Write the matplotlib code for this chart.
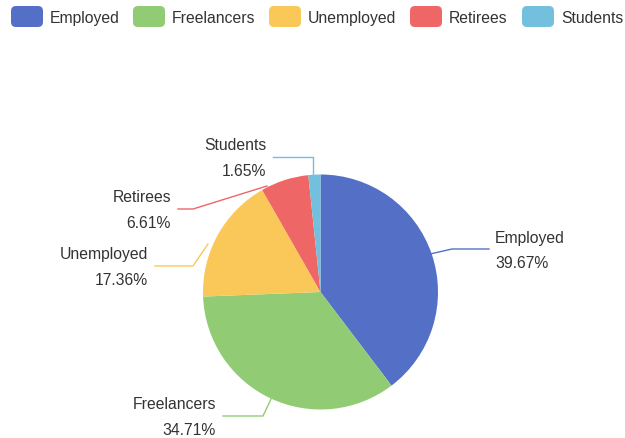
import numpy as np
import matplotlib
matplotlib.use("Agg")
import matplotlib.pyplot as plt
from matplotlib.patches import FancyBboxPatch

categories = ["Employed", "Freelancers", "Unemployed", "Retirees", "Students"]
values = [48, 42, 21, 8, 2]
colors = ["#5470c6", "#91cc75", "#fac858", "#ee6666", "#73c0de"]

W, H = 625, 439
plt.rcParams['font.family'] = ['Liberation Sans', 'DejaVu Sans']

fig = plt.figure(figsize=(W / 100, H / 100), dpi=100)
ax = fig.add_axes([0, 0, 1, 1])

# pie geometry (pixel coords, y measured from top)
cx, cy, r = 320.5, 293, 117.5
ax.pie(values, colors=colors, startangle=90, counterclock=False,
       center=(cx, H - cy), radius=r, frame=True,
       wedgeprops=dict(linewidth=0))
ax.set_xlim(0, W)
ax.set_ylim(0, H)
ax.set_aspect('equal')
ax.axis('off')

# label line layout: start, bend, end, text side (pixel coords, y from top)
label_lines = [
    ((430, 255), (452, 250), (489, 250), 'left'),
    ((272, 398), (263, 417), (223, 417), 'right'),
    ((208, 245), (193, 267), (155, 267), 'right'),
    ((267, 187), (193, 210), (178, 210), 'right'),
    ((313, 176), (313, 158), (273, 158), 'right'),
]

total = sum(values)
for cat, val, col, (p0, p1, p2, side) in zip(categories, values, colors, label_lines):
    xs = [p0[0], p1[0], p2[0]]
    ys = [H - p0[1], H - p1[1], H - p2[1]]
    ax.plot(xs, ys, color=col, lw=1)
    if side == 'left':
        tx, ha = p2[0] + 6, 'left'
    else:
        tx, ha = p2[0] - 7, 'right'
    ax.text(tx, H - (p2[1] - 12), cat, ha=ha, va='center', fontsize=11.3, color='#333333')
    ax.text(tx, H - (p2[1] + 13.5), f"{val / total * 100:.2f}%", ha=ha, va='center',
            fontsize=11.3, color='#333333')

# legend
legend_x = [11, 133, 269, 410, 522]
for cat, col, lx in zip(categories, colors, legend_x):
    ax.add_patch(FancyBboxPatch((lx + 5, H - 28 + 5), 22, 11,
                                boxstyle="round,pad=5", fc=col, ec='none'))
    ax.text(lx + 39, H - 18, cat, ha='left', va='center', fontsize=11.3, color='#333333')

fig.savefig("out.png", dpi=100)
